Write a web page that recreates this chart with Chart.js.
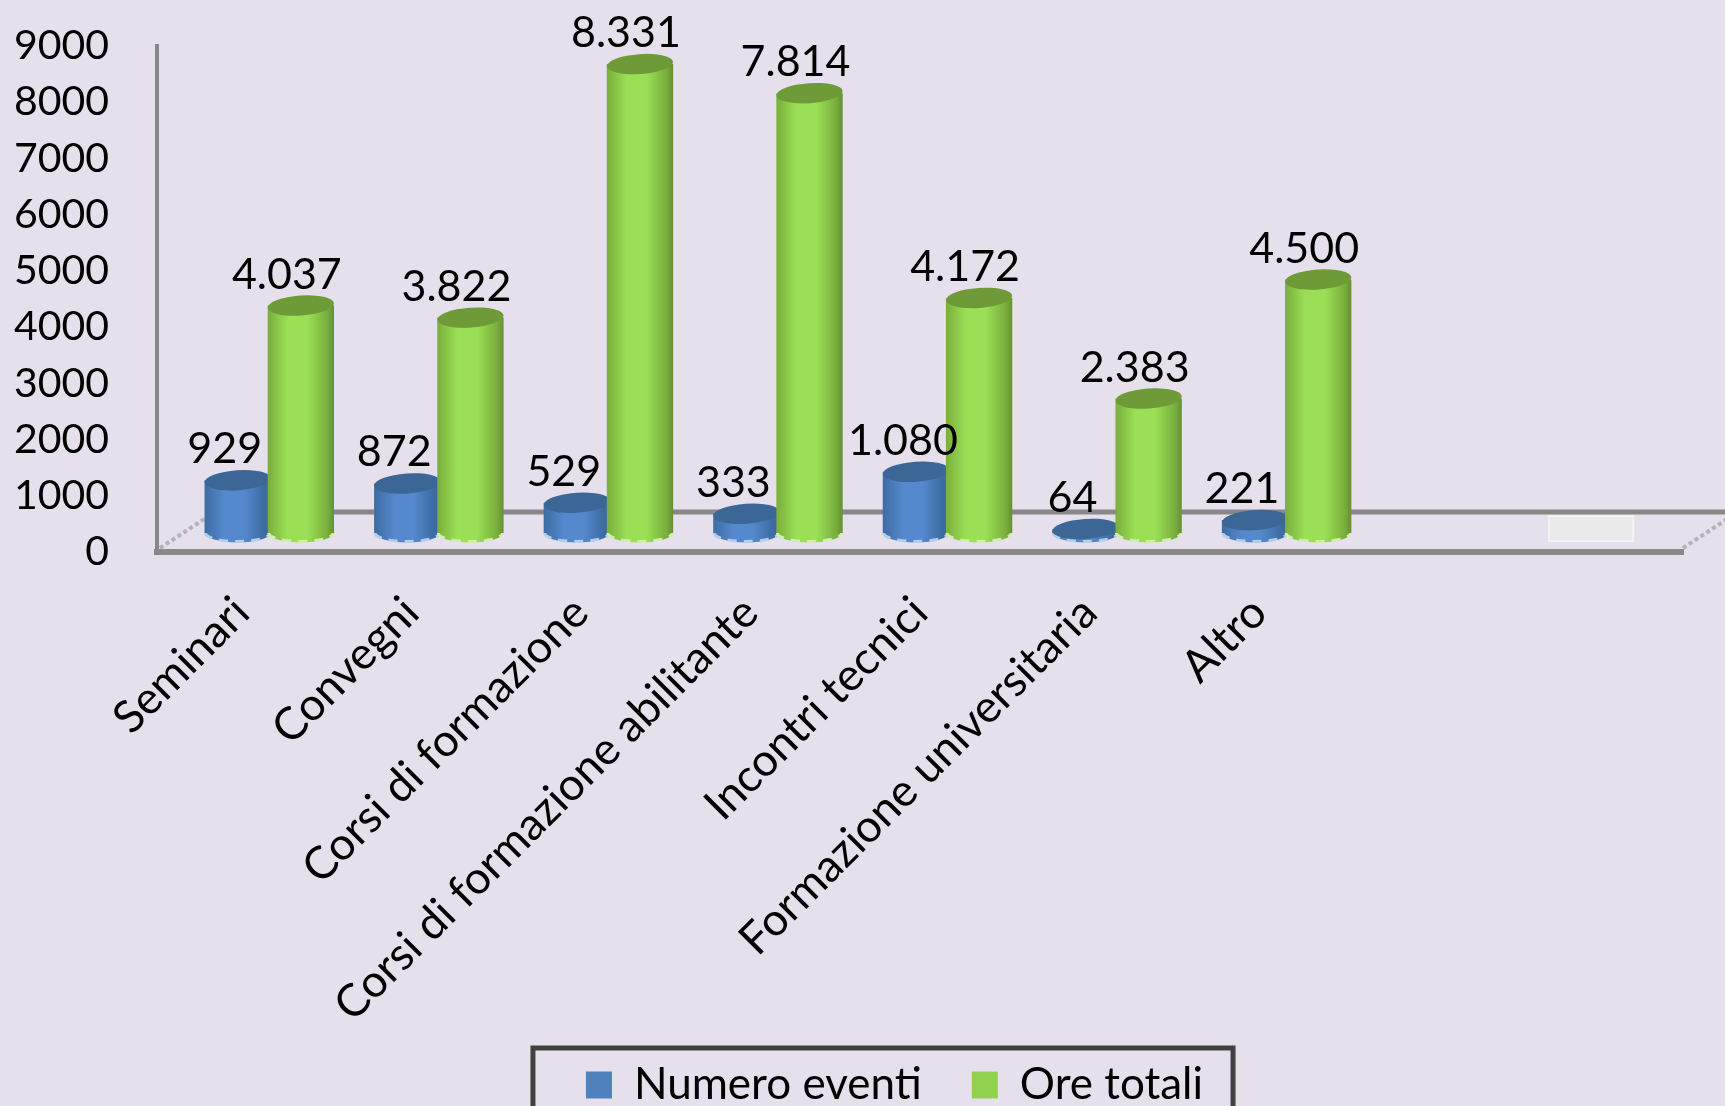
<!DOCTYPE html>
<html>
<head>
<meta charset="utf-8">
<script src="https://cdn.jsdelivr.net/npm/chart.js@4"></script>
<style>
  html, body { margin: 0; padding: 0; background: #E5E0EC; overflow: hidden; }
  canvas { display: block; }
</style>
</head>
<body>
<canvas id="chartEventi" width="1725" height="1106"></canvas>
<script>
const categories = ['Seminari', 'Convegni', 'Corsi di formazione', 'Corsi di formazione abilitante', 'Incontri tecnici', 'Formazione universitaria', 'Altro', '', ''];
const numeroEventi = [929, 872, 529, 333, 1080, 64, 221, null, null];
const oreTotali = [4037, 3822, 8331, 7814, 4172, 2383, 4500, null, null];

const FONT = 'Lato, Carlito, sans-serif';
const DEPTH_X = 55, DEPTH_Y = 39;
const LEGEND_SHIFT_X = 48, LEGEND_SHIFT_Y = -49;

// colori cilindri: bordo sx, centro, bordo dx, tappo, riflesso base
const BLUE = ['#3D6CA3', '#5588CC', '#3A6698', '#3B6695', '#B4CDE8'];
const GREEN = ['#79AE3C', '#9ADF55', '#648F33', '#6E9B38', '#D3EDB0'];

function fmt(v) {
  return String(v).replace(/\B(?=(\d{3})+$)/g, '.');
}

function drawCylinder(ctx, bar, col) {
  const w = bar.width, rx = w / 2, ry = 10;
  const left = bar.x - rx, right = bar.x + rx;

  const g = ctx.createLinearGradient(left, 0, right, 0);
  g.addColorStop(0, col[0]);
  g.addColorStop(0.3, col[1]);
  g.addColorStop(0.6, col[1]);
  g.addColorStop(0.9, col[0]);
  g.addColorStop(1, col[2]);

  ctx.beginPath();
  ctx.moveTo(left, bar.y);
  ctx.lineTo(left, bar.base);
  ctx.ellipse(bar.x, bar.base, rx, ry, 0, Math.PI, 0, true);
  ctx.lineTo(right, bar.y);
  ctx.closePath();
  ctx.fillStyle = g;
  ctx.fill();

  // riflesso tratteggiato alla base
  ctx.beginPath();
  ctx.ellipse(bar.x, bar.base + 0.5, rx - 1, ry - 1.5, 0, Math.PI, 0, true);
  ctx.strokeStyle = col[4];
  ctx.lineWidth = 3;
  ctx.setLineDash([9, 7]);
  ctx.stroke();
  ctx.setLineDash([]);

  ctx.beginPath();
  ctx.ellipse(bar.x, bar.y, rx, ry, -0.07, 0, Math.PI * 2);
  ctx.fillStyle = col[3];
  ctx.fill();
}

function drawFloor(chart) {
  const { ctx, chartArea: a, scales } = chart;
  const yb = a.bottom - 1;

  ctx.save();
  // linea di fondo del pavimento
  ctx.strokeStyle = '#888888';
  ctx.lineWidth = 5;
  ctx.beginPath();
  ctx.moveTo(a.left + DEPTH_X, yb - DEPTH_Y);
  ctx.lineTo(a.right + DEPTH_X, yb - DEPTH_Y);
  ctx.stroke();

  // spigoli laterali
  ctx.strokeStyle = '#B4B2B8';
  ctx.lineWidth = 4;
  ctx.setLineDash([4, 3]);
  [a.left + 3, a.right].forEach(x => {
    ctx.beginPath();
    ctx.moveTo(x, yb - 3);
    ctx.lineTo(x + DEPTH_X, yb - DEPTH_Y);
    ctx.stroke();
  });
  ctx.setLineDash([]);

  // riquadro chiaro sull'ultima categoria
  const cx = scales.x.getPixelForValue(8) - 7;
  ctx.fillStyle = '#EAEAEA';
  ctx.strokeStyle = '#F3F2F4';
  ctx.lineWidth = 2;
  ctx.fillRect(cx - 42, yb - 35, 84, 25);
  ctx.strokeRect(cx - 42, yb - 35, 84, 25);
  ctx.restore();
}

const cylinderPlugin = {
  id: 'cylinders',
  afterLayout(chart) {
    const l = chart.legend;
    l.left += LEGEND_SHIFT_X;
    l.right += LEGEND_SHIFT_X;
    l.top += LEGEND_SHIFT_Y;
    l.bottom += LEGEND_SHIFT_Y;
    l.adjustHitBoxes();
  },
  beforeDatasetsDraw(chart) {
    const ctx = chart.ctx;
    const blue = chart.getDatasetMeta(0).data;
    const green = chart.getDatasetMeta(1).data;

    drawFloor(chart);

    ctx.save();
    ctx.translate(DEPTH_X / 2, -DEPTH_Y / 2);
    categories.forEach((c, i) => {
      if (numeroEventi[i] != null) drawCylinder(ctx, blue[i], BLUE);
      if (oreTotali[i] != null) drawCylinder(ctx, green[i], GREEN);
    });

    ctx.fillStyle = '#000';
    ctx.font = '43px ' + FONT;
    ctx.textAlign = 'center';
    ctx.textBaseline = 'alphabetic';
    categories.forEach((c, i) => {
      if (numeroEventi[i] != null) ctx.fillText(fmt(numeroEventi[i]), blue[i].x - 13, blue[i].y - 17);
      if (oreTotali[i] != null) ctx.fillText(fmt(oreTotali[i]), green[i].x - 14, green[i].y - 17);
    });
    ctx.restore();

    return false;
  },
  afterDraw(chart) {
    // cornice della legenda, tagliata dal bordo inferiore
    const { ctx, legend } = chart;
    const hit = legend.legendHitBoxes;
    if (!hit || hit.length < 2) return;
    const x0 = hit[0].left - 53;
    const x1 = hit[1].left + hit[1].width + 30;
    const y0 = 1048;
    ctx.save();
    ctx.strokeStyle = '#404040';
    ctx.lineWidth = 5;
    ctx.beginPath();
    ctx.moveTo(x0, 1120);
    ctx.lineTo(x0, y0);
    ctx.lineTo(x1, y0);
    ctx.lineTo(x1, 1120);
    ctx.stroke();
    ctx.restore();
  },
};

new Chart(document.getElementById('chartEventi'), {
  type: 'bar',
  data: {
    labels: categories,
    datasets: [
      { label: 'Numero eventi', data: numeroEventi, backgroundColor: '#4F81BD', borderWidth: 0 },
      { label: 'Ore totali', data: oreTotali, backgroundColor: '#92D050', borderWidth: 0 },
    ],
  },
  options: {
    responsive: false,
    animation: false,
    categoryPercentage: 0.745,
    barPercentage: 1.05,
    layout: { padding: { left: 10, right: 42, top: 46, bottom: -60 } },
    plugins: {
      title: { display: false },
      tooltip: { enabled: false },
      legend: {
        position: 'bottom',
        labels: { color: '#000', font: { family: FONT, size: 44 }, boxWidth: 26, boxHeight: 27, padding: 50 },
      },
    },
    scales: {
      x: {
        grid: { display: false, drawTicks: false },
        border: { color: '#888888', width: 6 },
        ticks: { color: '#000', font: { family: FONT, size: 45 }, minRotation: 45, maxRotation: 45, autoSkip: false, padding: 34 },
        afterFit(s) { s.height = 510; },
      },
      y: {
        min: 0,
        max: 9000,
        grid: { display: false, drawTicks: false },
        border: { color: '#888888', width: 4 },
        ticks: { color: '#000', font: { family: FONT, size: 41 }, stepSize: 1000, padding: 48, autoSkip: false, callback: v => String(v) },
        afterFit(s) { s.width = 147; s.paddingTop = 0; s.paddingBottom = 0; },
      },
    },
  },
  plugins: [cylinderPlugin],
});
</script>
</body>
</html>
